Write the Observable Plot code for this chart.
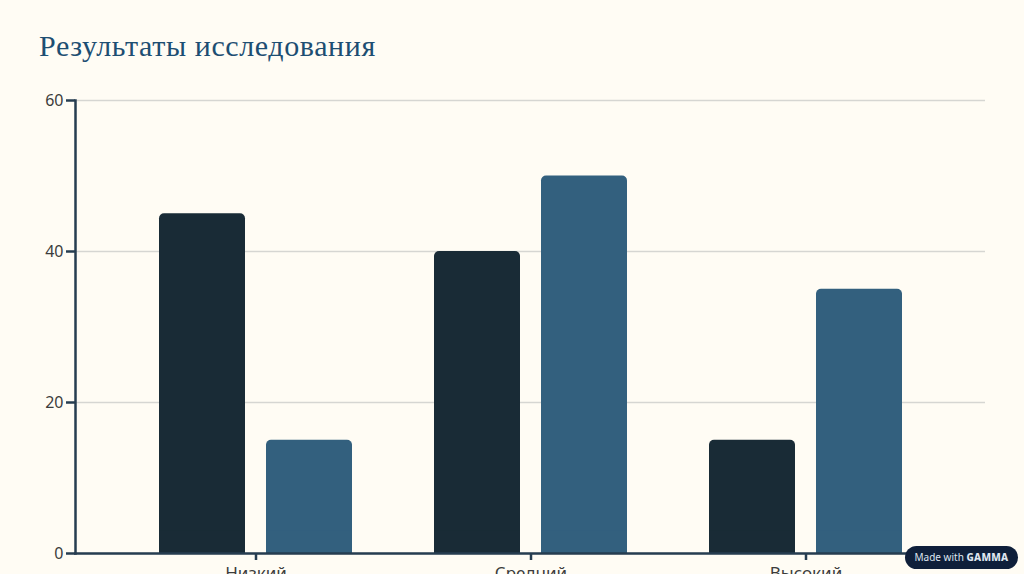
<!DOCTYPE html>
<html><head><meta charset="utf-8">
<script src="https://cdn.jsdelivr.net/npm/d3@7"></script>
<script src="https://cdn.jsdelivr.net/npm/@observablehq/plot@0.6"></script>
<style>
html,body{margin:0;padding:0;background:#fffcf4;overflow:hidden;width:1024px;height:574px;}
#wrap{position:relative;width:1024px;height:574px;}
#title{position:absolute;left:39px;top:29px;font-family:"Liberation Serif","DejaVu Serif",serif;font-size:30px;color:#1d4e72;letter-spacing:0.6px;}
#chart{position:absolute;left:0;top:0;}
#badge{position:absolute;left:905px;top:546px;width:113px;height:23px;border-radius:12px;background:#0f1f3a;color:#dfe6f0;font-family:"Noto Sans",sans-serif;font-size:10px;line-height:23px;text-align:center;}
#badge b{font-weight:800;letter-spacing:0.3px;}
</style></head>
<body><div id="wrap"><div id="chart"></div><div id="title">Результаты исследования</div><div id="badge">Made with <b>GAMMA</b></div></div>
<script>
const categories = ["Низкий", "Средний", "Высокий"];
const series1 = [45, 40, 15];
const series2 = [15, 50, 35];
const yTicks = [0, 20, 40, 60];

const d1 = categories.map((c, i) => ({category: c, value: series1[i]}));
const d2 = categories.map((c, i) => ({category: c, value: series2[i]}));
const dark = "#192b36", blue = "#33607e", axisColor = "#263d50";

const chart = Plot.plot({
  width: 1024,
  height: 620,
  marginTop: 100,
  marginBottom: 67,
  marginLeft: 75,
  marginRight: 39,
  style: {background: "transparent", fontFamily: "'Noto Sans', sans-serif"},
  x: {domain: categories, paddingInner: 0.3, paddingOuter: 0.3, label: null},
  y: {domain: [0, 60], label: null},
  marks: [
    Plot.gridY(yTicks, {stroke: "#d6d6d2", strokeOpacity: 1, strokeWidth: 1.5}),
    Plot.barY(d1, {x: "category", y: "value", fill: dark, insetRight: 107, rx: 5}),
    Plot.barY(d1, {x: "category", y: d => Math.min(d.value, 3), fill: dark, insetRight: 107}),
    Plot.barY(d2, {x: "category", y: "value", fill: blue, insetLeft: 107, rx: 5}),
    Plot.barY(d2, {x: "category", y: d => Math.min(d.value, 3), fill: blue, insetLeft: 107}),
    Plot.frame({anchor: "left", stroke: axisColor, strokeWidth: 2.5}),
    Plot.frame({anchor: "bottom", stroke: axisColor, strokeWidth: 2.5}),
    Plot.axisY(yTicks, {tickSize: 9, tickPadding: 3, fontSize: 16, stroke: axisColor, strokeWidth: 2.5, fill: "#3c3c3c", label: null}),
    Plot.axisX({tickSize: 7, tickPadding: 6, fontSize: 17, stroke: axisColor, strokeWidth: 2.5, fill: "#3c3c3c", label: null})
  ]
});
document.getElementById("chart").appendChild(chart);
</script></body></html>
